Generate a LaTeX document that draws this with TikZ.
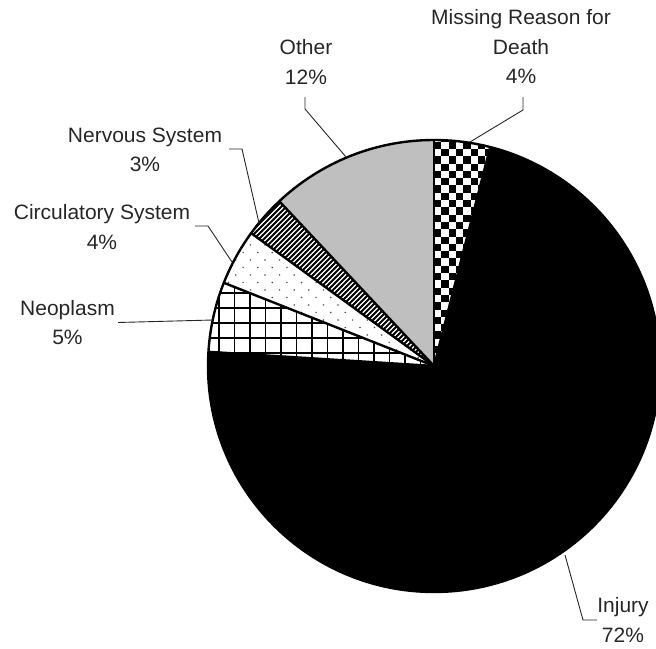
\documentclass[tikz,border=0pt]{standalone}
\usepackage{fontspec}
\setmainfont{Liberation Sans}[FakeStretch=1.01]
\definecolor{othergray}{RGB}{191,191,191}
\begin{document}
\begin{tikzpicture}[x=1pt,y=1pt,
  lbl/.style={align=center,inner sep=0pt,font=\fontsize{20.8}{29.5}\selectfont,text=black!85},
  lead/.style={line width=0.9pt,black!85},
  edge/.style={line width=2.4pt,black,line join=round}]
\clip (0,0) rectangle (656,648);
\def\R{226}
\coordinate (C) at (434,282);
% Other
\fill[othergray] (C) -- ++(90:\R) arc[start angle=90,end angle=133.2,radius=\R] -- cycle;
% Injury
\fill[black] (C) -- ++(75.6:\R) arc[start angle=75.6,end angle=-183.6,radius=\R] -- cycle;
% Missing: checkerboard
\begin{scope}
\clip (C) -- ++(90:\R) arc[start angle=90,end angle=75.6,radius=\R] -- cycle;
\fill[white] (430,278) rectangle (500,512);
\foreach \i in {0,...,9}{\foreach \j in {0,...,32}{
  \pgfmathtruncatemacro\k{mod(\i+\j,2)}
  \ifnum\k=0 \fill[black] ({434+\i*7.3},{280+\j*7.3}) rectangle ++(7.3,7.3);\fi}}
\end{scope}
% Neoplasm: grid
\begin{scope}
\clip (C) -- ++(158.4:\R) arc[start angle=158.4,end angle=176.4,radius=\R] -- cycle;
\fill[white] (200,270) rectangle (440,380);
\foreach \x in {203.5,219,...,440} \draw[line width=1.8pt] (\x,270) -- (\x,380);
\foreach \y in {280,295,...,380} \draw[line width=1.8pt] (200,\y) -- (440,\y);
\end{scope}
% Circulatory: dots
\begin{scope}
\clip (C) -- ++(144:\R) arc[start angle=144,end angle=158.4,radius=\R] -- cycle;
\fill[white] (215,275) rectangle (440,425);
\foreach \r in {0,...,19}{\foreach \m in {-3,...,12}{
  \fill[black!70] ({265+\m*14.6+mod(\r,2)*7.3},{403-\r*7.5}) circle[radius=0.85];}}
\end{scope}
% Nervous: stripes
\begin{scope}
\clip (C) -- ++(133.2:\R) arc[start angle=133.2,end angle=144,radius=\R] -- cycle;
\fill[white] (240,275) rectangle (440,455);
\foreach \t in {60,65,...,445} \draw[line width=2pt] (\t,270) -- ++(190,190);
\end{scope}
% edges
\draw[edge] (C) circle[radius=\R];
\foreach \a in {90,75.6,176.4,158.4,144,133.2} \draw[edge] (C) -- ++(\a:\R);
% labels
\node[lbl] (lMiss) at (521,601) {Missing Reason for\\Death\\4\%};
\node[lbl] (lOther) at (306,586) {Other\\12\%};
\node[lbl] (lNerv) at (145,498) {Nervous System\\3\%};
\node[lbl] (lCirc) at (102,421) {Circulatory System\\4\%};
\node[lbl] (lNeo) at (67.5,325.5) {Neoplasm\\5\%};
\node[lbl] (lInj) at (623,28) {Injury\\72\%};
% leader points
\coordinate (mA) at (523,551); \coordinate (mB) at (523,538); \coordinate (mP) at (470,506);
\coordinate (oA) at (305,551); \coordinate (oB) at (305,539); \coordinate (oP) at (346,491);
\coordinate (nA) at (229,499); \coordinate (nB) at (242,499); \coordinate (nP) at (259,425);
\coordinate (cA) at (195,422); \coordinate (cB) at (208,422); \coordinate (cP) at (232,386);
\coordinate (eA) at (118,325.5); \coordinate (eP) at (213,328);
\coordinate (iA) at (597,28); \coordinate (iB) at (583,28); \coordinate (iP) at (565,93);
\draw[lead] (mA) -- (mB) -- (mP);
\draw[lead] (oA) -- (oB) -- (oP);
\draw[lead] (nA) -- (nB) -- (nP);
\draw[lead] (cA) -- (cB) -- (cP);
\draw[lead] (eA) -- (eP);
\draw[lead] (iA) -- (iB) -- (iP);
\end{tikzpicture}
\end{document}
